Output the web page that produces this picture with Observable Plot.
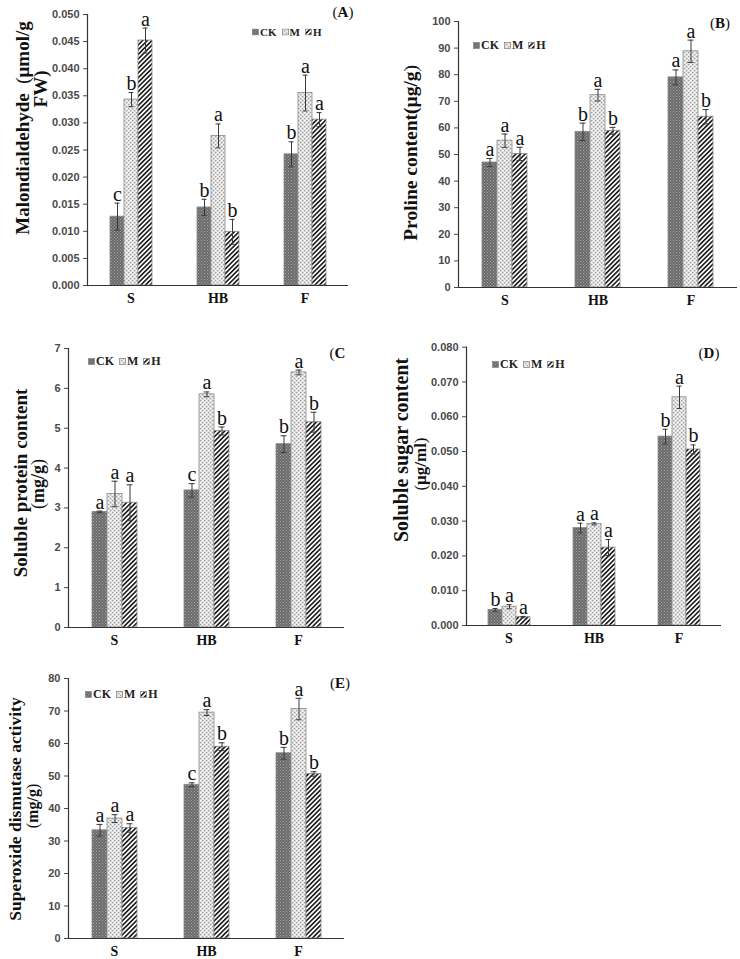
<!DOCTYPE html>
<html><head><meta charset="utf-8">
<script src="https://cdn.jsdelivr.net/npm/d3@7"></script>
<script src="https://cdn.jsdelivr.net/npm/@observablehq/plot@0.6"></script>
<style>
html,body{margin:0;padding:0;background:#fff;}
body{position:relative;width:740px;height:959px;overflow:hidden;font-family:"Liberation Serif",serif;}
.panel{position:absolute;}
.ylab{position:absolute;transform:translate(-50%,-50%) rotate(-90deg);white-space:nowrap;font-weight:bold;font-family:"Liberation Serif",serif;color:#111;line-height:1;}
.tag{position:absolute;transform:translate(-50%,-50%);white-space:nowrap;font-weight:bold;font-family:"Liberation Serif",serif;font-size:15px;color:#111;line-height:1;}
.fwo{padding-left:0.5em;font-weight:normal;}
.fwc{padding-right:0.5em;font-weight:normal;}
.legend{position:absolute;transform:translateY(-50%);display:flex;align-items:center;font-weight:bold;font-family:"Liberation Serif",serif;color:#222;white-space:nowrap;line-height:1;}
.legend svg{margin-right:1px;}
.legend span{margin-right:5px;}
</style></head>
<body>
<svg width="0" height="0" style="position:absolute;left:0;top:0">
  <defs>
    <pattern id="pCK" width="3" height="3" patternUnits="userSpaceOnUse">
      <rect width="3" height="3" fill="#696969"/>
      <rect x="0" y="0" width="1" height="1" fill="#a6a6a6"/>
      <rect x="1.5" y="1.5" width="1" height="1" fill="#a6a6a6"/>
    </pattern>
    <pattern id="pM" width="4" height="4" patternUnits="userSpaceOnUse">
      <rect width="4" height="4" fill="#e4e4e4"/>
      <rect x="0" y="0" width="1.3" height="1.3" fill="#a4a4a4"/>
      <rect x="2" y="2" width="1.3" height="1.3" fill="#a4a4a4"/>
      <rect x="2" y="0" width="1" height="1" fill="#ffffff"/>
      <rect x="0" y="2" width="1" height="1" fill="#ffffff"/>
    </pattern>
    <pattern id="pH" width="3.3" height="3.3" patternUnits="userSpaceOnUse" patternTransform="rotate(45)">
      <rect width="3.3" height="3.3" fill="#ffffff"/>
      <rect width="1.6" height="3.3" fill="#1a1a1a"/>
    </pattern>
  </defs>
</svg>
<script>
const categories = ["S", "HB", "F"];
const treatments = ["CK", "M", "H"];

// (A) Malondialdehyde
const mdaMean = [[0.0127, 0.0343, 0.0452], [0.0144, 0.0276, 0.0099], [0.0242, 0.0355, 0.0306]];
const mdaErr = [[0.0025, 0.0013, 0.0023], [0.0015, 0.0022, 0.0023], [0.0023, 0.0033, 0.0013]];
const mdaLetters = [["c", "b", "a"], ["b", "a", "b"], ["b", "a", "a"]];
const mdaTicks = [0, 0.005, 0.010, 0.015, 0.020, 0.025, 0.030, 0.035, 0.040, 0.045, 0.050];

// (B) Proline
const prolineMean = [[47.0, 55.2, 50.2], [58.5, 72.3, 58.9], [79.0, 88.8, 64.2]];
const prolineErr = [[1.5, 2.5, 2.5], [3.3, 2.2, 1.3], [2.8, 4.2, 2.7]];
const prolineLetters = [["a", "a", "a"], ["b", "a", "b"], ["a", "a", "b"]];
const prolineTicks = [0, 10, 20, 30, 40, 50, 60, 70, 80, 90, 100];

// (C) Soluble protein
const proteinMean = [[2.90, 3.35, 3.13], [3.44, 5.85, 4.93], [4.60, 6.40, 5.15]];
const proteinErr = [[0.02, 0.32, 0.45], [0.17, 0.06, 0.10], [0.21, 0.06, 0.25]];
const proteinLetters = [["a", "a", "a"], ["c", "a", "b"], ["b", "a", "b"]];
const proteinTicks = [0, 1, 2, 3, 4, 5, 6, 7];

// (D) Soluble sugar
const sugarMean = [[0.0045, 0.0054, 0.0024], [0.0280, 0.0292, 0.0224], [0.0543, 0.0656, 0.0506]];
const sugarErr = [[0.0004, 0.0006, 0.0002], [0.0014, 0.0003, 0.0023], [0.0021, 0.0032, 0.0013]];
const sugarLetters = [["b", "a", "a"], ["a", "a", "a"], ["b", "a", "b"]];
const sugarTicks = [0, 0.010, 0.020, 0.030, 0.040, 0.050, 0.060, 0.070, 0.080];

// (E) Superoxide dismutase
const sodMean = [[33.3, 36.9, 34.0], [47.3, 69.5, 59.0], [57.0, 70.6, 50.6]];
const sodErr = [[1.8, 1.2, 1.3], [0.6, 0.9, 1.2], [1.8, 3.3, 0.7]];
const sodLetters = [["a", "a", "a"], ["c", "a", "b"], ["b", "a", "b"]];
const sodTicks = [0, 10, 20, 30, 40, 50, 60, 70, 80];

const patternFills = ["url(#pCK)", "url(#pM)", "url(#pH)"];

function rowsOf(mean, err, letters) {
  const rows = [];
  categories.forEach((c, i) => treatments.forEach((t, j) => {
    rows.push({cat: c, trt: t, v: mean[i][j], e: err[i][j], letter: letters[i][j]});
  }));
  return rows;
}

// full-width brackets: keep the character, widen it with padding like the original typesetting
function setMixedText(el, text) {
  for (const ch of text.split(/([（）])/)) {
    if (!ch) continue;
    if (ch === "（" || ch === "）") {
      const s = document.createElement("span");
      s.className = ch === "（" ? "fwo" : "fwc";
      s.textContent = ch === "（" ? "(" : ")";
      el.appendChild(s);
    } else {
      el.appendChild(document.createTextNode(ch));
    }
  }
}

function addPanel(cfg) {
  const rows = rowsOf(cfg.mean, cfg.err, cfg.letters);
  const ymax = cfg.ticks[cfg.ticks.length - 1];
  const plot = Plot.plot({
    width: cfg.w, height: cfg.h,
    marginLeft: cfg.ml, marginRight: cfg.mr, marginTop: cfg.mt, marginBottom: cfg.mb,
    style: {background: "transparent", overflow: "visible"},
    fx: {domain: categories, padding: 0, axis: null, label: null},
    x: {domain: treatments, paddingInner: 0, paddingOuter: 1.5, axis: null},
    y: {domain: [0, ymax], axis: null},
    color: {type: "ordinal", domain: treatments, range: patternFills},
    marks: [
      Plot.barY(rows, {fx: "cat", x: "trt", y: "v", fill: "trt", stroke: "#8a8a8a", strokeWidth: 0.8}),
      Plot.ruleX(rows, {fx: "cat", x: "trt", y1: d => d.v - d.e, y2: d => d.v + d.e, stroke: "#3a3a3a", strokeWidth: 1}),
      Plot.tickY(rows, {fx: "cat", x: "trt", y: d => d.v + d.e, insetLeft: 4.5, insetRight: 4.5, stroke: "#3a3a3a", strokeWidth: 1}),
      Plot.tickY(rows, {fx: "cat", x: "trt", y: d => d.v - d.e, insetLeft: 4.5, insetRight: 4.5, stroke: "#3a3a3a", strokeWidth: 1}),
      Plot.text(rows, {fx: "cat", x: "trt", y: d => d.v + d.e, text: "letter", dy: -2.5, lineAnchor: "bottom",
        fontSize: 20, fontFamily: "Liberation Serif", fill: "#111"}),
      Plot.ruleY([0], {stroke: "#333", strokeWidth: 1.2}),
      Plot.frame({anchor: "left", facetAnchor: "left", stroke: "#333", strokeWidth: 1.2}),
      Plot.axisY({ticks: cfg.ticks, tickFormat: cfg.fmt, tickSize: 4, tickPadding: 4, label: null,
        fontSize: 11, fontWeight: "bold", fontFamily: "Liberation Sans", color: "#4a4a4a"}),
      Plot.axisFx({anchor: "bottom", tickSize: 0, tickPadding: 8, label: null,
        fontSize: 14, fontWeight: "bold", fontFamily: "Liberation Serif", color: "#111"})
    ]
  });
  const div = document.createElement("div");
  div.className = "panel";
  div.style.left = cfg.left + "px";
  div.style.top = cfg.top + "px";
  div.appendChild(plot);
  document.body.appendChild(div);

  cfg.ylabels.forEach(l => {
    const d = document.createElement("div");
    d.className = "ylab";
    d.style.left = l.x + "px"; d.style.top = l.y + "px"; d.style.fontSize = l.size + "px";
    setMixedText(d, l.text);
    document.body.appendChild(d);
  });

  const tag = document.createElement("div");
  tag.className = "tag";
  tag.style.left = cfg.tag.x + "px"; tag.style.top = cfg.tag.y + "px";
  if (cfg.tag.anchorLeft) tag.style.transform = "translate(0,-50%)";
  setMixedText(tag, cfg.tag.text);
  document.body.appendChild(tag);

  const lg = document.createElement("div");
  lg.className = "legend";
  lg.style.left = cfg.legend.x + "px"; lg.style.top = cfg.legend.y + "px"; lg.style.fontSize = cfg.legend.size + "px";
  treatments.forEach((t, j) => {
    const s = cfg.legend.sw;
    const sw = document.createElementNS("http://www.w3.org/2000/svg", "svg");
    sw.setAttribute("width", s); sw.setAttribute("height", s);
    const r = document.createElementNS("http://www.w3.org/2000/svg", "rect");
    r.setAttribute("x", 0.5); r.setAttribute("y", 0.5); r.setAttribute("width", s - 1); r.setAttribute("height", s - 1);
    r.setAttribute("fill", patternFills[j]); r.setAttribute("stroke", "#8a8a8a"); r.setAttribute("stroke-width", 0.8);
    sw.appendChild(r);
    lg.appendChild(sw);
    const sp = document.createElement("span");
    sp.textContent = t;
    lg.appendChild(sp);
  });
  document.body.appendChild(lg);
}

addPanel({
  mean: mdaMean, err: mdaErr, letters: mdaLetters, ticks: mdaTicks, fmt: ".3f",
  left: 0, top: 0, w: 360, h: 320, ml: 87, mr: 12, mt: 14, mb: 35,
  ylabels: [{text: "Malondialdehyde（μmol/g", x: 22, y: 128, size: 19}, {text: "FW)", x: 40, y: 89, size: 19}],
  tag: {text: "（A）", x: 343, y: 12},
  legend: {x: 252, y: 32, size: 11, sw: 7}
});
addPanel({
  mean: prolineMean, err: prolineErr, letters: prolineLetters, ticks: prolineTicks, fmt: "d",
  left: 370, top: 0, w: 370, h: 320, ml: 88, mr: 3, mt: 21, mb: 33,
  ylabels: [{text: "Proline content(μg/g）", x: 411, y: 148, size: 19.5}],
  tag: {text: "（B）", x: 720, y: 23},
  legend: {x: 473, y: 45, size: 12, sw: 7}
});
addPanel({
  mean: proteinMean, err: proteinErr, letters: proteinLetters, ticks: proteinTicks, fmt: "d",
  left: 0, top: 320, w: 360, h: 330, ml: 68, mr: 16, mt: 28, mb: 23,
  ylabels: [{text: "Soluble protein content", x: 20, y: 483, size: 19}, {text: "（mg/g）", x: 38, y: 484, size: 18}],
  tag: {text: "（C", x: 322, y: 353, anchorLeft: true},
  legend: {x: 88, y: 361, size: 12, sw: 7}
});
addPanel({
  mean: sugarMean, err: sugarErr, letters: sugarLetters, ticks: sugarTicks, fmt: ".3f",
  left: 370, top: 320, w: 370, h: 330, ml: 95, mr: 18, mt: 26.7, mb: 25,
  ylabels: [{text: "Soluble sugar content", x: 401, y: 450, size: 20}, {text: "（μg/ml）", x: 420, y: 464, size: 17}],
  tag: {text: "（D）", x: 709, y: 353},
  legend: {x: 492, y: 364, size: 12, sw: 7}
});
addPanel({
  mean: sodMean, err: sodErr, letters: sodLetters, ticks: sodTicks, fmt: "d",
  left: 0, top: 650, w: 360, h: 309, ml: 68, mr: 16, mt: 28, mb: 21,
  ylabels: [{text: "Superoxide dismutase activity", x: 16, y: 809, size: 17.5}, {text: "（mg/g）", x: 33, y: 806, size: 16}],
  tag: {text: "（E）", x: 340, y: 683},
  legend: {x: 85, y: 694, size: 12, sw: 7}
});
</script>
</body></html>
